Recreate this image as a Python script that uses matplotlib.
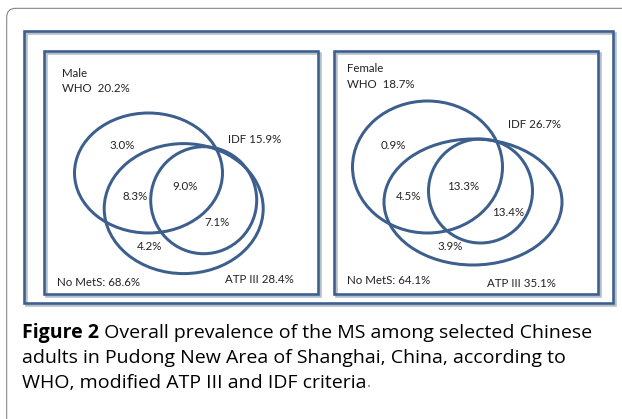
import matplotlib
matplotlib.use("Agg")
import matplotlib.pyplot as plt
import matplotlib.transforms as mtrans
from matplotlib.patches import Ellipse, Rectangle, FancyBboxPatch

# ---- data ----
panels = ["Male", "Female"]
who_total = [20.2, 18.7]
idf_total = [15.9, 26.7]
atp_total = [28.4, 35.1]
no_mets = [68.6, 64.1]
who_only = [3.0, 0.9]
who_atp = [8.3, 4.5]
all_three = [9.0, 13.3]
idf_atp = [7.1, 13.4]
atp_only = [4.2, 3.9]

caption_bold = "Figure 2"
caption_rest = [" Overall prevalence of the MS among selected Chinese",
                "adults in Pudong New Area of Shanghai, China, according to",
                "WHO, modified ATP III and IDF criteria"]

# ---- layout ----
W, H = 622, 419
fig = plt.figure(figsize=(W / 100, H / 100), dpi=100)
ax = fig.add_axes([0, 0, 1, 1])
ax.set_xlim(0, W)
ax.set_ylim(H, 0)
ax.axis("off")

BLUE = "#3D5F8E"
TXT = "#222222"
FONT = "Lato"
px = 0.72  # points per pixel

# outer rounded frame
ax.add_patch(FancyBboxPatch((6.7, 8.3), 640, 430, boxstyle="round,pad=0,rounding_size=9",
                            fill=False, ec="#7a7a7a", lw=1.0 * px))

def rect(x0, y0, x1, y1, lw):
    ax.add_patch(Rectangle((x0 + 2, y0 + 2), x1 - x0, y1 - y0, fill=False,
                           ec="#b5bfcc", lw=lw * px))
    ax.add_patch(Rectangle((x0, y0), x1 - x0, y1 - y0, fill=False, ec=BLUE, lw=lw * px))

rect(23.5, 31.5, 612.5, 302.5, 2.6)

boxes = [(43.5, 51.5, 318, 294), (334, 51.5, 598, 294)]
for b in boxes:
    rect(*b, 2.6)

# ellipses (cx, cy, w, h) for WHO, ATP, IDF
ell = [
    [(148.5, 173, 148, 120), (183.7, 208.6, 159, 130), (203.7, 200.2, 106, 107)],
    [(427.5, 167, 150, 132), (473, 202, 178, 126), (480.5, 191, 104, 104)],
]
for e in ell:
    for (cx, cy, w, h) in e:
        ax.add_patch(Ellipse((cx, cy), w, h, fill=False, ec=BLUE, lw=3.0 * px))

fs = 8.3
def t(x, y, s, ha="center"):
    ax.text(x, y, s, ha=ha, va="center", fontsize=fs, color=TXT, family=FONT)

# label positions
pos = [
    dict(title=(61.7, 73.5), who=(61.7, 88.5), idf=(228, 139.5), atp=(225, 279.5), nm=(56.7, 282.5),
         who_only=(121.7, 145.5), who_atp=(135, 196), all3=(185, 186), idf_atp=(216.7, 222),
         atp_only=(150, 246)),
    dict(title=(346.7, 69), who=(346.7, 84), idf=(508.5, 124), atp=(487, 283), nm=(346.7, 280.5),
         who_only=(393.3, 145.5), who_atp=(408.3, 196), all3=(463.3, 186), idf_atp=(508.3, 212),
         atp_only=(450, 246)),
]
for i, p in enumerate(pos):
    t(*p["title"], panels[i], ha="left")
    t(*p["who"], f"WHO  {who_total[i]:.1f}%", ha="left")
    t(*p["idf"], f"IDF {idf_total[i]:.1f}%", ha="left")
    t(*p["atp"], f"ATP III {atp_total[i]:.1f}%", ha="left")
    t(*p["nm"], f"No MetS: {no_mets[i]:.1f}%", ha="left")
    t(*p["who_only"], f"{who_only[i]:.1f}%")
    t(*p["who_atp"], f"{who_atp[i]:.1f}%")
    t(*p["all3"], f"{all_three[i]:.1f}%")
    t(*p["idf_atp"], f"{idf_atp[i]:.1f}%")
    t(*p["atp_only"], f"{atp_only[i]:.1f}%")

# caption
cfs = 14.0
CFONT = "Open Sans"
CCOL = "#000000"
blend = mtrans.blended_transform_factory(mtrans.IdentityTransform(), ax.transData)
tb = ax.text(22, 333, caption_bold, ha="left", va="center", fontsize=cfs,
             fontweight="bold", color=CCOL, family=CFONT)
fig.canvas.draw()
bb = tb.get_window_extent()
ax.text(bb.x1, 333, caption_rest[0], ha="left", va="center", fontsize=cfs,
        color=CCOL, family=CFONT, transform=blend)
ax.text(22, 358, caption_rest[1], ha="left", va="center", fontsize=cfs, color=CCOL, family=CFONT)
t3 = ax.text(22, 383, caption_rest[2], ha="left", va="center", fontsize=cfs, color=CCOL, family=CFONT)
fig.canvas.draw()
b3 = t3.get_window_extent()
ax.text(b3.x1, 383, ".", ha="left", va="center", fontsize=cfs * 0.8, color="#777777", family=CFONT,
        transform=blend)

fig.savefig("out.png", dpi=100)
